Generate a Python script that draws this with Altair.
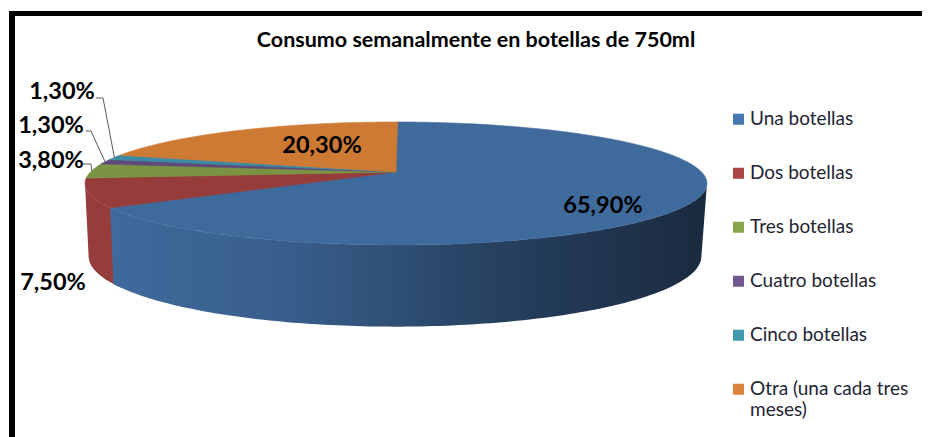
import math
import altair as alt

# ---- chart values -------------------------------------------------------
categories = ["Una botellas", "Dos botellas", "Tres botellas", "Cuatro botellas",
              "Cinco botellas", "Otra (una cada tres meses)"]
values = [65.9, 7.5, 3.8, 1.3, 1.3, 20.3]
labels = ["65,90%", "7,50%", "3,80%", "1,30%", "1,30%", "20,30%"]
title_text = "Consumo semanalmente en botellas de 750ml"

# ---- styles -------------------------------------------------------------
legend_colors = ["#4676b0", "#aa4644", "#89a54e", "#71588f", "#4298af", "#db843d"]
face_colors = ["#3f6a9c", "#963c3a", "#7a9444", "#5f4a7b", "#3a8ba3", "#cd7a35"]
FONT = "Lato"
W, H = 914, 429
OX, OY = 8, 8   # page margin

# ---- layout: perspective of the disc (page pixels) ----------------------
K = 0.187
TOP = dict(cx=396, cy=172, a=305.5, b=59.35)
BOT = dict(cx=395, cy=243, a=301, b=68)
# label centre x, y (page px)
label_pos = [(603, 206), (53, 283), (51, 161), (51, 126), (62, 92), (322, 146)]
# leader lines: slice index -> (start x, start y, elbow x, elbow y)
leaders = {2: (83, 164, 91, 164), 3: (86, 131, 91, 131), 4: (96, 98, 103, 98)}


def rim(deg, p):
    t = math.radians(deg)
    u, v = math.sin(t), math.cos(t)
    w = 1 + K * v
    return [p["cx"] + p["a"] * u / w - OX, p["cy"] - p["b"] * v / w - OY]


def arc(d0, d1, p):
    n = max(2, int(abs(d1 - d0)) + 1)
    return [rim(d0 + (d1 - d0) * i / (n - 1), p) for i in range(n)]


def feature(coords, kind="Polygon", **props):
    c = [coords] if kind == "Polygon" else coords
    return {"type": "Feature", "properties": props, "geometry": {"type": kind, "coordinates": c}}


cum = [0]
for val in values:
    cum.append(cum[-1] + val)
ang = [c * 3.6 for c in cum]

apex = [TOP["cx"] - OX, TOP["cy"] - OY]
INNER = dict(TOP, a=TOP["a"] * 0.9, b=TOP["b"] * 0.9)
faces, under_faces = [], []
for i, cat in enumerate(categories):
    faces.append(feature([apex] + arc(ang[i], ang[i + 1], TOP) + [apex], cat=cat, fill=face_colors[i]))
    under_faces.append(feature([apex] + arc(ang[i], ang[i + 1], INNER) + [apex], cat=cat))

sil_r = 90 + math.degrees(math.asin(K))
sil_l = 270 - math.degrees(math.asin(K))


def wall(d0, d1):
    a = arc(d0, d1, TOP)
    b = arc(d0, d1, BOT)
    return [feature(a + b[::-1] + [a[0]])]


proj = dict(type="identity", scale=1, translate=[0, 0])

under = alt.Chart(alt.Data(values=under_faces)).mark_geoshape(strokeWidth=0).encode(
    color=alt.Color(
        "properties.cat:N",
        scale=alt.Scale(domain=categories, range=legend_colors),
        sort=categories,
        legend=alt.Legend(
            title=None, orient="none", legendX=721, legendY=90,
            symbolType="M-1 -2.05 L1 -2.05 L1 -0.05 L-1 -0.05 Z", symbolSize=121,
            symbolStrokeWidth=0,
            labelFont=FONT, labelFontSize=19, labelColor="#1f2433",
            labelBaseline="alphabetic", labelLimit=200, labelOffset=2,
            rowPadding=0, clipHeight=54, labelExpr=
            "datum.label == 'Otra (una cada tres meses)' ? ['Otra (una cada tres', 'meses)'] : datum.label"),
    )
).project(**proj)

blue_grad = alt.Gradient(
    gradient="linear", x1=0, y1=0, x2=1, y2=0,
    stops=[alt.GradientStop(offset=0, color="#3f6a9c"),
           alt.GradientStop(offset=0.3, color="#385e8c"),
           alt.GradientStop(offset=0.65, color="#26405f"),
           alt.GradientStop(offset=1, color="#1a2a3f")],
)
wall_blue = alt.Chart(alt.Data(values=wall(sil_r, ang[1]))).mark_geoshape(fill=blue_grad, strokeWidth=0).project(**proj)
wall_red = alt.Chart(alt.Data(values=wall(ang[1] - 2, sil_l))).mark_geoshape(fill=face_colors[1], strokeWidth=0).project(**proj)

top = alt.Chart(alt.Data(values=faces)).mark_geoshape(strokeWidth=0.6).encode(
    color=alt.Color("properties.fill:N", scale=None, legend=None),
    stroke=alt.Stroke("properties.fill:N", scale=None, legend=None),
).project(**proj)

lines = []
for i, (sx, sy, ex, ey) in leaders.items():
    end = rim((ang[i] + ang[i + 1]) / 2, TOP)
    lines.append(feature([[sx - OX, sy - OY], [ex - OX, ey - OY], end], kind="LineString"))
leader_layer = alt.Chart(alt.Data(values=lines)).mark_geoshape(
    filled=False, stroke="#595959", strokeWidth=1).project(**proj)

text_rows = [{"t": t, "px": x - OX, "py": y - OY} for t, (x, y) in zip(labels, label_pos)]
text_layer = alt.Chart(alt.Data(values=text_rows)).mark_text(
    font=FONT, fontSize=23.5, fontWeight="bold", color="#000000", align="center", baseline="middle"
).encode(
    x=alt.X("px:Q", scale=None), y=alt.Y("py:Q", scale=None), text="t:N"
)

frame_left = alt.Chart(alt.Data(values=[{"a": 1}])).mark_rect(color="#000000").encode(
    x=alt.value(1), x2=alt.value(7), y=alt.value(3), y2=alt.value(H))
frame_top = alt.Chart(alt.Data(values=[{"a": 1}])).mark_rect(color="#000000").encode(
    x=alt.value(1), x2=alt.value(W), y=alt.value(3), y2=alt.value(8))

chart = alt.layer(under, wall_red, wall_blue, top, leader_layer, text_layer, frame_left, frame_top).resolve_scale(
    color="independent", stroke="independent"
).properties(
    width=W, height=H, padding=0,
    autosize=alt.AutoSizeParams(type="none"),
    background="#ffffff",
    title=alt.TitleParams(title_text, font=FONT, fontSize=21.5, fontWeight="bold", color="#000000",
                          anchor="middle", dx=11, dy=65, offset=0, baseline="bottom"),
).configure_view(stroke=None)

chart.save("out.html", embed_options={"renderer": "svg", "actions": False})
